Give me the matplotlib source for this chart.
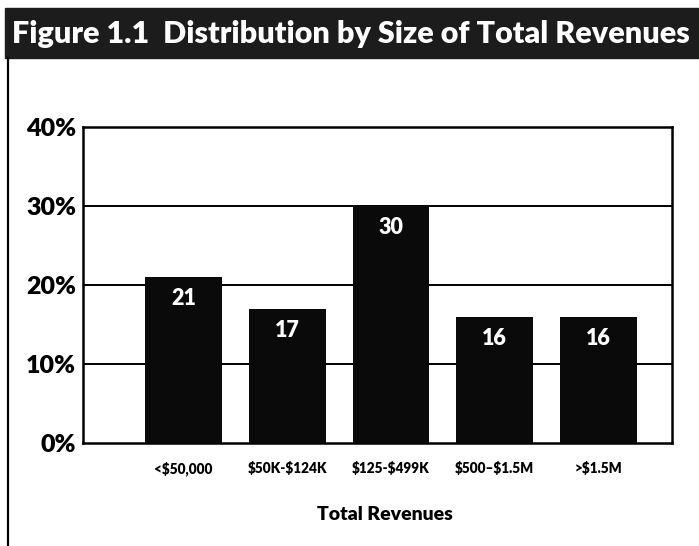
import matplotlib
matplotlib.use("Agg")
import matplotlib.pyplot as plt
from matplotlib.patches import Rectangle
from matplotlib.lines import Line2D

# revenue bands and share of organisations (%)
categories = ["<\\$50,000", "\\$50K-\\$124K", "\\$125-\\$499K", "\\$500\u2013\\$1.5M", ">\\$1.5M"]
shares = [21, 17, 30, 16, 16]
y_ticks = [0, 10, 20, 30, 40]
y_tick_labels = ["0%", "10%", "20%", "30%", "40%"]

plt.rcParams['font.family'] = ['Lato', 'DejaVu Sans']

fig = plt.figure(figsize=(6.99, 5.46), dpi=100)
W, H = 699, 546

# dark title banner across the top
fig.patches.append(Rectangle((5 / W, 1 - 58 / H), 1 - 5 / W, 50 / H,
                             transform=fig.transFigure, color="#1c1c1c", zorder=0))
fig.text(12 / W, 1 - 34 / H, "Figure 1.1  Distribution by Size of Total Revenues",
         color="white", fontsize=22, fontweight="heavy", va="center", ha="left")

# frame line running down the left side
fig.lines.append(Line2D([8 / W, 8 / W], [0, 1 - 58 / H], transform=fig.transFigure,
                        color="black", linewidth=1.6))

ax = fig.add_axes([83 / W, 1 - 443 / H, (672 - 83) / W, (443 - 127) / H])
x = list(range(len(categories)))
ax.bar(x, shares, width=0.74, color="#0a0a0a", zorder=3)
for xi, v in zip(x, shares):
    ax.text(xi, v - 1.4, str(v), color="white", fontsize=15.5, fontweight="heavy",
            ha="center", va="top", zorder=4)

ax.set_xlim(-0.97, 4.71)
ax.set_ylim(0, 40)
ax.set_yticks(y_ticks)
ax.set_yticklabels(y_tick_labels, fontsize=18, fontweight="heavy")
ax.set_xticks(x)
ax.set_xticklabels(categories, fontsize=9.8, fontweight="heavy")
ax.tick_params(axis="both", length=0)
ax.tick_params(axis="x", pad=13)
ax.tick_params(axis="y", pad=5)
for yv in y_ticks[1:-1]:
    ax.axhline(yv, color="black", linewidth=1.4, zorder=1)
for s in ax.spines.values():
    s.set_linewidth(1.8)
    s.set_color("black")

ax.set_xlabel("Total Revenues", fontsize=14, fontweight="heavy")
ax.xaxis.set_label_coords(0.513, -0.2)

fig.savefig("out.png", dpi=100)
